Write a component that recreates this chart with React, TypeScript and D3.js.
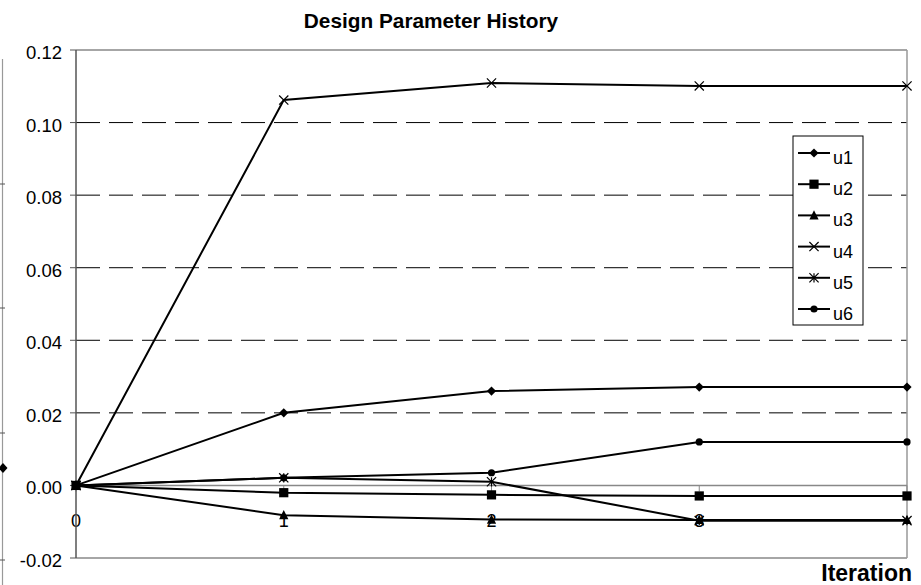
import React from "react";
import * as d3 from "d3";

// Iterations along the category axis
const iterations = ["0", "1", "2", "3", "4"];

// Design parameter values per iteration
const u1 = [0, 0.02, 0.026, 0.0271, 0.0271];
const u2 = [0, -0.002, -0.0026, -0.0029, -0.0029];
const u3 = [0, -0.0082, -0.0094, -0.0095, -0.0095];
const u4 = [0, 0.1062, 0.1109, 0.1101, 0.1101];
const u5 = [0, 0.0021, 0.001, -0.0097, -0.0097];
const u6 = [0, 0.0021, 0.0035, 0.012, 0.012];

const seriesNames = ["u1", "u2", "u3", "u4", "u5", "u6"];
const seriesValues = [u1, u2, u3, u4, u5, u6];
const markerKinds = ["diamond", "square", "triangle", "x", "star", "circle"];

const yTicks = [-0.02, 0, 0.02, 0.04, 0.06, 0.08, 0.1, 0.12];

const W = 921;
const H = 585;
const FONT = "'Liberation Sans', Arial, sans-serif";

const x = d3.scalePoint<string>().domain(iterations).range([76, 907]);
const y = d3.scaleLinear().domain([-0.02, 0.12]).range([558, 50]);

function Marker({ kind, cx, cy }: { kind: string; cx: number; cy: number }) {
  const r = 4.6;
  switch (kind) {
    case "diamond":
      return (
        <path
          d={`M${cx},${cy - r}L${cx + r},${cy}L${cx},${cy + r}L${cx - r},${cy}Z`}
          fill="#000"
        />
      );
    case "square":
      return <rect x={cx - r} y={cy - r} width={2 * r} height={2 * r} fill="#000" />;
    case "triangle":
      return (
        <path
          d={`M${cx},${cy - r - 0.5}L${cx + r},${cy + r - 0.5}L${cx - r},${cy + r - 0.5}Z`}
          fill="#000"
        />
      );
    case "x":
      return (
        <path
          d={`M${cx - r},${cy - r}L${cx + r},${cy + r}M${cx - r},${cy + r}L${cx + r},${cy - r}`}
          stroke="#000"
          strokeWidth={1.2}
        />
      );
    case "star":
      return (
        <path
          d={`M${cx - r},${cy - r}L${cx + r},${cy + r}M${cx - r},${cy + r}L${cx + r},${cy - r}M${cx},${cy - r}L${cx},${cy + r}`}
          stroke="#000"
          strokeWidth={1.2}
        />
      );
    default:
      return <circle cx={cx} cy={cy} r={3.6} fill="#000" />;
  }
}

export default function App() {
  const line = d3
    .line<number>()
    .x((_, i) => x(iterations[i]) as number)
    .y((v) => y(v));

  const left = x.range()[0];
  const right = x.range()[1];
  const top = y.range()[1];
  const bottom = y.range()[0];
  const y0 = y(0);

  // Legend layout
  const lgX = 793;
  const lgY = 136;
  const lgW = 70;
  const lgH = 189;
  const rowStep = 31.2;
  const firstRow = 153;

  return (
    <svg
      width={W}
      height={H}
      style={{ position: "absolute", left: 0, top: 0, background: "#fff" }}
      fontFamily={FONT}
    >
      <rect width={W} height={H} fill="#fff" />

      {/* edge of the neighbouring chart */}
      <line x1={2.5} x2={2.5} y1={59} y2={H} stroke="#999" strokeWidth={1.2} />
      {[184, 308, 433, 560].map((ty) => (
        <line key={ty} x1={0} x2={5} y1={ty} y2={ty} stroke="#555" strokeWidth={1} />
      ))}
      <path d="M3,463L7.5,468L3,473L-1.5,468Z" fill="#000" />

      {/* title */}
      <text
        x={431}
        y={28}
        textAnchor="middle"
        fontSize={20.8}
        fontWeight="bold"
        fill="#000"
      >
        Design Parameter History
      </text>

      {/* dashed gridlines */}
      {yTicks
        .filter((t) => t > -0.02 && t < 0.12 && t !== 0)
        .map((t) => (
          <line
            key={t}
            x1={left}
            x2={right}
            y1={y(t)}
            y2={y(t)}
            stroke="#000"
            strokeWidth={1}
            strokeDasharray="24 9"
          />
        ))}

      {/* plot border */}
      <line x1={left} x2={right} y1={top} y2={top} stroke="#888" strokeWidth={1.5} />
      <line x1={left} x2={right} y1={bottom} y2={bottom} stroke="#888" strokeWidth={1.5} />
      <line x1={right} x2={right} y1={top} y2={bottom} stroke="#999" strokeWidth={1.5} />

      {/* category axis at zero */}
      <line x1={left} x2={right} y1={y0} y2={y0} stroke="#888" strokeWidth={1.5} />
      {iterations.map((c) => (
        <line
          key={"t" + c}
          x1={x(c)}
          x2={x(c)}
          y1={y0}
          y2={y0 + 6}
          stroke="#888"
          strokeWidth={1}
        />
      ))}
      {/* the last category label is dropped, it would collide with the axis title */}
      {iterations.slice(0, -1).map((c) => (
        <text
          key={"l" + c}
          x={x(c)}
          y={527}
          textAnchor="middle"
          fontSize={18}
          fill="#000"
        >
          {c}
        </text>
      ))}

      {/* value axis */}
      <line x1={left} x2={left} y1={top} y2={bottom} stroke="#555" strokeWidth={1.5} />
      {yTicks.map((t) => (
        <g key={"y" + t}>
          <line x1={left - 6} x2={left} y1={y(t)} y2={y(t)} stroke="#555" strokeWidth={1} />
          <text
            x={62}
            y={y(t) + 9}
            textAnchor="end"
            fontSize={18.5}
            fill="#000"
          >
            {t < 0 ? "-" + Math.abs(t).toFixed(2) : t.toFixed(2)}
          </text>
        </g>
      ))}

      {/* series */}
      {seriesValues.map((vals, si) => (
        <g key={seriesNames[si]}>
          <path d={line(vals) ?? ""} fill="none" stroke="#000" strokeWidth={2} />
          {vals.map((v, i) => (
            <Marker
              key={i}
              kind={markerKinds[si]}
              cx={x(iterations[i]) as number}
              cy={y(v)}
            />
          ))}
        </g>
      ))}

      {/* axis title */}
      <text
        x={912}
        y={581}
        textAnchor="end"
        fontSize={23}
        fontWeight="bold"
        fill="#000"
      >
        Iteration
      </text>

      {/* legend */}
      <rect x={lgX} y={lgY} width={lgW} height={lgH} fill="#fff" stroke="#000" strokeWidth={1} />
      {seriesNames.map((name, i) => {
        const ry = firstRow + i * rowStep;
        return (
          <g key={"lg" + name}>
            <line x1={798} x2={830} y1={ry} y2={ry} stroke="#000" strokeWidth={2} />
            <Marker kind={markerKinds[i]} cx={814} cy={ry} />
            <text x={833} y={ry + 11} fontSize={18} fill="#000">
              {name}
            </text>
          </g>
        );
      })}
    </svg>
  );
}
